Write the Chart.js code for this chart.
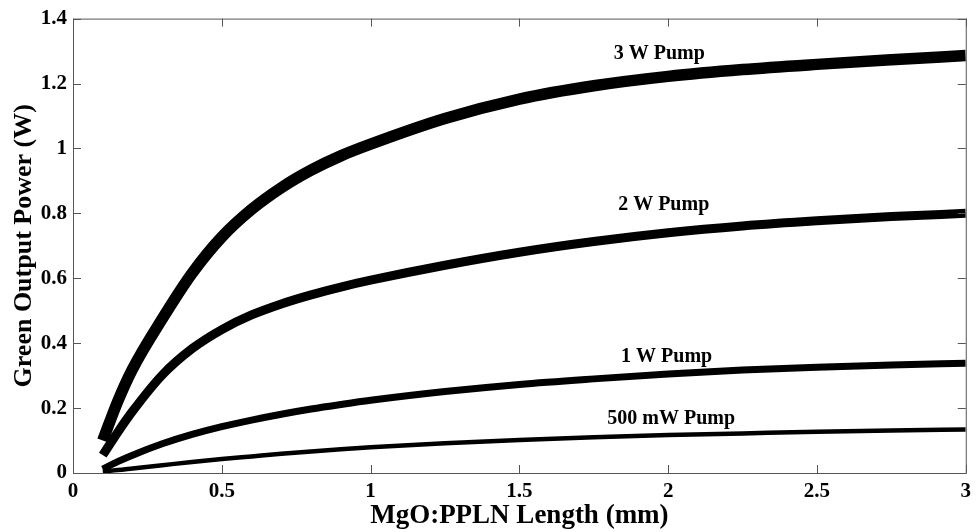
<!DOCTYPE html>
<html>
<head>
<meta charset="utf-8">
<script src="https://cdn.jsdelivr.net/npm/chart.js@4.4.1/dist/chart.umd.min.js"></script>
<style>
  html, body { margin: 0; padding: 0; background: #fff; }
</style>
</head>
<body>
<canvas id="greenChart" width="977" height="532"></canvas>
<script>
// crystal length (mm) where the curves were read
const lengthsMm = [0.1, 0.15, 0.2, 0.3, 0.4, 0.5, 0.6, 0.7, 0.8, 0.9, 1.0, 1.25, 1.5, 1.75, 2.0, 2.25, 2.5, 2.75, 3.0];

// green output power (W) for each pump level
const pump3W    = [0.10, 0.22, 0.32, 0.475, 0.615, 0.727, 0.812, 0.879, 0.933, 0.977, 1.013, 1.092, 1.152, 1.193, 1.222, 1.243, 1.259, 1.273, 1.286];
const pump2W    = [0.055, 0.125, 0.19, 0.302, 0.383, 0.442, 0.487, 0.521, 0.549, 0.573, 0.594, 0.64, 0.68, 0.713, 0.74, 0.761, 0.777, 0.79, 0.80];
const pump1W    = [0.012, 0.035, 0.055, 0.09, 0.119, 0.143, 0.163, 0.181, 0.197, 0.211, 0.224, 0.251, 0.273, 0.29, 0.305, 0.317, 0.326, 0.333, 0.338];
const pump500mW = [0.005, 0.009, 0.014, 0.024, 0.034, 0.043, 0.051, 0.059, 0.066, 0.073, 0.079, 0.092, 0.102, 0.11, 0.117, 0.122, 0.127, 0.131, 0.134];

// curve labels and where they sit (data coords)
const curveNames = ['3 W Pump', '2 W Pump', '1 W Pump', '500 mW Pump'];
const nameX = [1.97, 1.985, 1.995, 2.01];
const nameY = [1.29, 0.826, 0.357, 0.166];

const xTicks = [0, 0.5, 1, 1.5, 2, 2.5, 3];
const yTicks = [0, 0.2, 0.4, 0.6, 0.8, 1, 1.2, 1.4];

const serif = "'Liberation Serif', 'Times New Roman', serif";

function toPoints(values) {
    return values.map((v, i) => ({ x: lengthsMm[i], y: v }));
}

function curve(values, width) {
    return {
        data: toPoints(values),
        borderColor: '#000',
        borderWidth: width,
        pointRadius: 0,
        fill: false,
        cubicInterpolationMode: 'monotone'
    };
}

// box round the plot, inward ticks, and the curve labels
const framePlugin = {
    id: 'framePlugin',
    afterDatasetsDraw(chart) {
        const ctx = chart.ctx;
        const area = chart.chartArea;
        const xs = chart.scales.x;
        const ys = chart.scales.y;
        const tick = 8;

        ctx.save();
        ctx.strokeStyle = '#555';
        ctx.lineWidth = 1;
        ctx.strokeRect(area.left + 0.5, area.top + 0.5, area.right - area.left, area.bottom - area.top);

        ctx.beginPath();
        xTicks.forEach(v => {
            const px = Math.round(xs.getPixelForValue(v)) + 0.5;
            ctx.moveTo(px, area.bottom);
            ctx.lineTo(px, area.bottom - tick);
            ctx.moveTo(px, area.top);
            ctx.lineTo(px, area.top + tick);
        });
        yTicks.forEach(v => {
            const py = Math.round(ys.getPixelForValue(v)) + 0.5;
            ctx.moveTo(area.left, py);
            ctx.lineTo(area.left + tick, py);
            ctx.moveTo(area.right, py);
            ctx.lineTo(area.right - tick, py);
        });
        ctx.stroke();

        ctx.fillStyle = '#000';
        ctx.font = 'bold 20px ' + serif;
        ctx.textAlign = 'center';
        ctx.textBaseline = 'middle';
        curveNames.forEach((name, i) => {
            ctx.fillText(name, xs.getPixelForValue(nameX[i]), ys.getPixelForValue(nameY[i]));
        });
        ctx.restore();
    }
};

const ctx = document.getElementById('greenChart').getContext('2d');
new Chart(ctx, {
    type: 'line',
    data: {
        datasets: [
            curve(pump3W, 11.5),
            curve(pump2W, 9),
            curve(pump1W, 7),
            curve(pump500mW, 4.5)
        ]
    },
    options: {
        responsive: false,
        animation: false,
        layout: { padding: { top: 18, right: 9, left: 0, bottom: 0 } },
        plugins: {
            legend: { display: false },
            tooltip: { enabled: false }
        },
        scales: {
            x: {
                type: 'linear',
                min: 0,
                max: 3,
                afterFit: scale => { scale.height = 59; },
                afterBuildTicks: scale => { scale.ticks = xTicks.map(v => ({ value: v })); },
                grid: { display: false, drawTicks: false },
                border: { display: false },
                ticks: {
                    color: '#000',
                    padding: 6,
                    maxRotation: 0,
                    callback: v => String(v),
                    font: { family: serif, size: 21, weight: 'bold' }
                },
                title: {
                    display: true,
                    text: 'MgO:PPLN Length (mm)',
                    color: '#000',
                    padding: { top: 0, bottom: 0 },
                    font: { family: serif, size: 27, weight: 'bold' }
                }
            },
            y: {
                min: 0,
                max: 1.4,
                afterFit: scale => { scale.width = 73; },
                afterBuildTicks: scale => { scale.ticks = yTicks.map(v => ({ value: v })); },
                grid: { display: false, drawTicks: false },
                border: { display: false },
                ticks: {
                    color: '#000',
                    padding: 6,
                    callback: v => String(v),
                    font: { family: serif, size: 21, weight: 'bold' }
                },
                title: {
                    display: true,
                    text: 'Green Output Power (W)',
                    color: '#000',
                    padding: { top: 9, bottom: 0 },
                    font: { family: serif, size: 26, weight: 'bold' }
                }
            }
        }
    },
    plugins: [framePlugin]
});
</script>
</body>
</html>
